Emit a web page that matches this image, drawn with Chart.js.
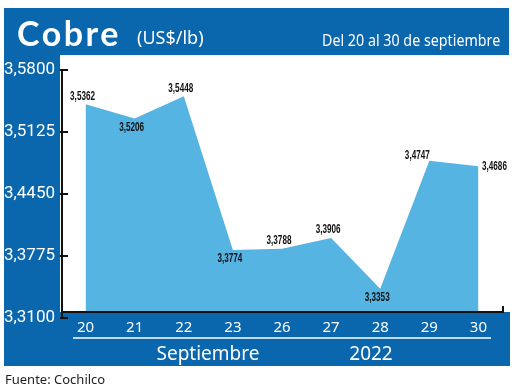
<!DOCTYPE html>
<html>
<head>
<meta charset="utf-8">
<script src="https://cdn.jsdelivr.net/npm/chart.js@4.4.0/dist/chart.umd.min.js"></script>
<style>
  html, body { margin: 0; padding: 0; background: #fff; }
  #wrap { position: relative; width: 520px; height: 387px; overflow: hidden; }
  #copperChart { position: absolute; left: 0; top: 0; }
  .txt { position: absolute; white-space: nowrap; line-height: 1; color: #fff; }
  #title { left: 17px; top: 12px; font: bold 34px Lato, sans-serif; letter-spacing: 2.5px; }
  #unit { left: 137px; top: 25px; font: 18px "Noto Sans", sans-serif; }
  #range { right: 20px; top: 28px; font: 17px "Noto Sans", sans-serif; transform: scaleX(0.84); transform-origin: right center; }
  #month { left: 208px; top: 340px; font: 19px "Noto Sans", sans-serif; transform: translateX(-50%); }
  #year { left: 371px; top: 340px; font: 19px "Noto Sans", sans-serif; transform: translateX(-50%); }
  #source { left: 5px; top: 370px; font: 13px "Noto Sans", sans-serif; color: #222; }
</style>
</head>
<body>
<div id="wrap">
  <canvas id="copperChart" width="520" height="387"></canvas>
  <div class="txt" id="title">Cobre</div>
  <div class="txt" id="unit">(US$/lb)</div>
  <div class="txt" id="range">Del 20 al 30 de septiembre</div>
  <div class="txt" id="month">Septiembre</div>
  <div class="txt" id="year">2022</div>
  <div class="txt" id="source">Fuente: Cochilco</div>
</div>
<script>
// Data
const days = ['20', '21', '22', '23', '26', '27', '28', '29', '30'];
const prices = [3.5362, 3.5206, 3.5448, 3.3774, 3.3788, 3.3906, 3.3353, 3.4747, 3.4686];
const yTicks = [3.31, 3.3775, 3.445, 3.5125, 3.58];

// where each value label sits next to its point
const labelSide = ['above', 'below', 'above', 'below', 'above', 'above', 'below', 'aboveLeft', 'right'];

const frameBlue = '#0a67ad';
const fillBlue = '#56b4e3';

const fmt = v => v.toFixed(4).replace('.', ',');

// Blue frame, axes and value labels
const framePlugin = {
  id: 'frame',
  beforeDraw(chart) {
    const ctx = chart.ctx;
    ctx.save();
    ctx.fillStyle = frameBlue;
    ctx.fillRect(4, 8, 505, 47);   // header
    ctx.fillRect(4, 8, 56, 358);   // left band
    ctx.restore();
  },
  afterDatasetsDraw(chart) {
    const ctx = chart.ctx;
    const area = chart.chartArea;
    const y = chart.scales.y;
    ctx.save();
    // bottom band
    ctx.fillStyle = frameBlue;
    ctx.fillRect(4, area.bottom, 506, 54);
    ctx.strokeStyle = '#fff';
    ctx.lineWidth = 1.5;
    ctx.beginPath();
    ctx.moveTo(73, 338);
    ctx.lineTo(491, 338);
    ctx.stroke();

    // axes (ticks sit a few px below the value they name, as in the print)
    ctx.strokeStyle = '#111';
    ctx.lineWidth = 2;
    const shift = 6;
    const top = y.getPixelForValue(yTicks[yTicks.length - 1]) + shift;
    const bot = y.getPixelForValue(yTicks[0]) + shift;
    ctx.beginPath();
    ctx.moveTo(area.left + 1, top);
    ctx.lineTo(area.left + 1, bot);
    yTicks.forEach(v => {
      const py = y.getPixelForValue(v) + shift;
      ctx.moveTo(area.left - 1, py);
      ctx.lineTo(area.left + 7, py);
    });
    ctx.moveTo(area.left, area.bottom);
    ctx.lineTo(area.right, area.bottom);
    ctx.moveTo(area.right, area.bottom + 1);
    ctx.lineTo(area.right, area.bottom - 6);
    ctx.stroke();

    // value labels, condensed
    ctx.fillStyle = '#111';
    ctx.font = 'bold 12px "Liberation Sans", sans-serif';
    ctx.textAlign = 'center';
    ctx.textBaseline = 'middle';
    const meta = chart.getDatasetMeta(0);
    meta.data.forEach((pt, i) => {
      let dx = -3, dy = -8;
      if (labelSide[i] === 'below') dy = 9;
      if (labelSide[i] === 'aboveLeft') { dx = -12; dy = -5; }
      if (labelSide[i] === 'right') { dx = 16; dy = 0; }
      ctx.save();
      ctx.translate(pt.x + dx, pt.y + dy);
      ctx.scale(0.68, 1);
      ctx.fillText(fmt(prices[i]), 0, 0);
      ctx.restore();
    });
    ctx.restore();
  }
};

const data = {
  labels: days,
  datasets: [{
    data: prices,
    fill: 'start',
    backgroundColor: fillBlue,
    borderWidth: 0,
    pointRadius: 0,
    tension: 0
  }]
};

const options = {
  responsive: false,
  animation: false,
  layout: { padding: { top: 64, left: 4, right: 17, bottom: 25 } },
  plugins: {
    legend: { display: false },
    tooltip: { enabled: false }
  },
  scales: {
    x: {
      offset: true,
      grid: { display: false, drawTicks: false },
      border: { display: false },
      ticks: {
        z: 1,
        color: '#fff',
        padding: 7,
        font: { family: 'Noto Sans', size: 15 }
      },
      afterFit(s) { s.height = 50; }
    },
    y: {
      min: 3.31,
      max: 3.58,
      grid: { display: false, drawTicks: false },
      border: { display: false },
      afterBuildTicks(s) { s.ticks = yTicks.map(v => ({ value: v })); },
      ticks: {
        z: 1,
        color: '#fff',
        padding: 6,
        labelOffset: 6,
        font: { family: 'Roboto', size: 17 },
        callback: v => fmt(v)
      },
      afterFit(s) { s.width = 57; }
    }
  }
};

const myChart = new Chart(document.getElementById('copperChart'), {
  type: 'line',
  data: data,
  options: options,
  plugins: [framePlugin]
});
</script>
</body>
</html>
